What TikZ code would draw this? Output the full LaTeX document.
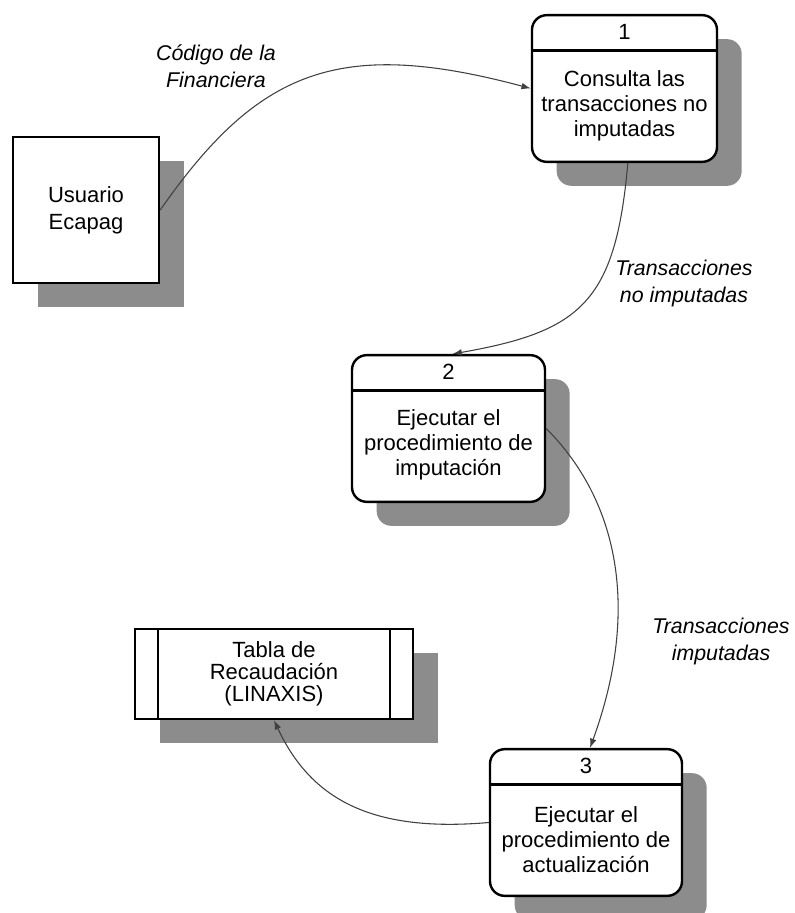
\documentclass[tikz,border=0pt]{standalone}
\usepackage{fontspec}
\setmainfont{Liberation Sans}
\usetikzlibrary{shadows,arrows.meta}

\begin{document}
\begin{tikzpicture}[x=0.75pt,y=-0.75pt,
  every node/.style={font=\fontsize{16.5}{18.75}\selectfont},
  sombra/.style={drop shadow={shadow xshift=18.5pt,shadow yshift=-18pt,fill=black!45,opacity=1}},
  proceso/.style={draw,line width=1.8pt,fill=white,rounded corners=11pt,minimum height=110pt,inner sep=0pt,sombra},
  entidad/.style={draw,line width=1.8pt,fill=white,minimum width=109.5pt,minimum height=109.5pt,align=center,font=\fontsize{16.5}{20}\selectfont,sombra},
  almacen/.style={draw,line width=1.8pt,fill=white,minimum width=208.5pt,minimum height=67.5pt,align=center,font=\fontsize{16.5}{16.5}\selectfont,sombra},
  texto/.style={align=center},
  etiqueta/.style={align=center,font=\fontsize{16}{20.25}\selectfont\itshape},
  flujo/.style={draw=black!75,line width=0.8pt,-{Latex[length=7pt,width=5pt]}}]
  \path[use as bounding box,fill=white] (0,0) rectangle (794,913);

  % entidad externa y almacen
  \node[entidad] (usuario) at (86,210) {Usuario\\Ecapag};
  \node[almacen] (tabla) at (274,674) {Tabla de\\Recaudación\\(LINAXIS)};
  \draw[line width=1.8pt] ([xshift=18pt]tabla.north west) -- ([xshift=18pt]tabla.south west);
  \draw[line width=1.8pt] ([xshift=-18pt]tabla.north east) -- ([xshift=-18pt]tabla.south east);

  % procesos
  \node[proceso,minimum width=138.75pt] (p1) at (624.5,88.5) {};
  \node[proceso,minimum width=144.75pt] (p2) at (448.5,428.5) {};
  \node[proceso,minimum width=144pt] (p3) at (586,822.5) {};
  \foreach \n in {1,2,3} {
    \draw[line width=1.8pt] ([yshift=-27.5pt]p\n.north west) -- ([yshift=-27.5pt]p\n.north east);
    \node (num\n) at ([yshift=-13.75pt]p\n.north) {\n};
  }
  \node[texto] (t1) at ([yshift=-69pt]p1.north) {Consulta las\\transacciones no\\imputadas};
  \node[texto] (t2) at ([yshift=-68.5pt]p2.north) {Ejecutar el\\procedimiento de\\imputación};
  \node[texto] (t3) at ([yshift=-68.5pt]p3.north) {Ejecutar el\\procedimiento de\\actualización};

  % flujos
  \draw[flujo] (usuario.east) to[out=55,in=165,out distance=127.5pt,in distance=150pt] (p1.west);
  \draw[flujo] ([xshift=2.5pt]p1.south) to[out=-95,in=10,out distance=105pt,in distance=97.5pt] ([xshift=3pt]p2.north);
  \draw[flujo] (p2.east) to[out=-45,in=70,out distance=75pt,in distance=112.5pt] ([xshift=3pt]p3.north);
  \draw[flujo] (p3.west) to[out=185,in=-65,out distance=90pt,in distance=64pt] (tabla.south);

  \node[etiqueta] (lcodigo) at (216,66.5) {Código de la\\Financiera};
  \node[etiqueta] (lnoimp) at (684,283.5) {Transacciones\\no imputadas};
  \node[etiqueta] (limp) at (721,641.5) {Transacciones\\imputadas};
\end{tikzpicture}
\end{document}
